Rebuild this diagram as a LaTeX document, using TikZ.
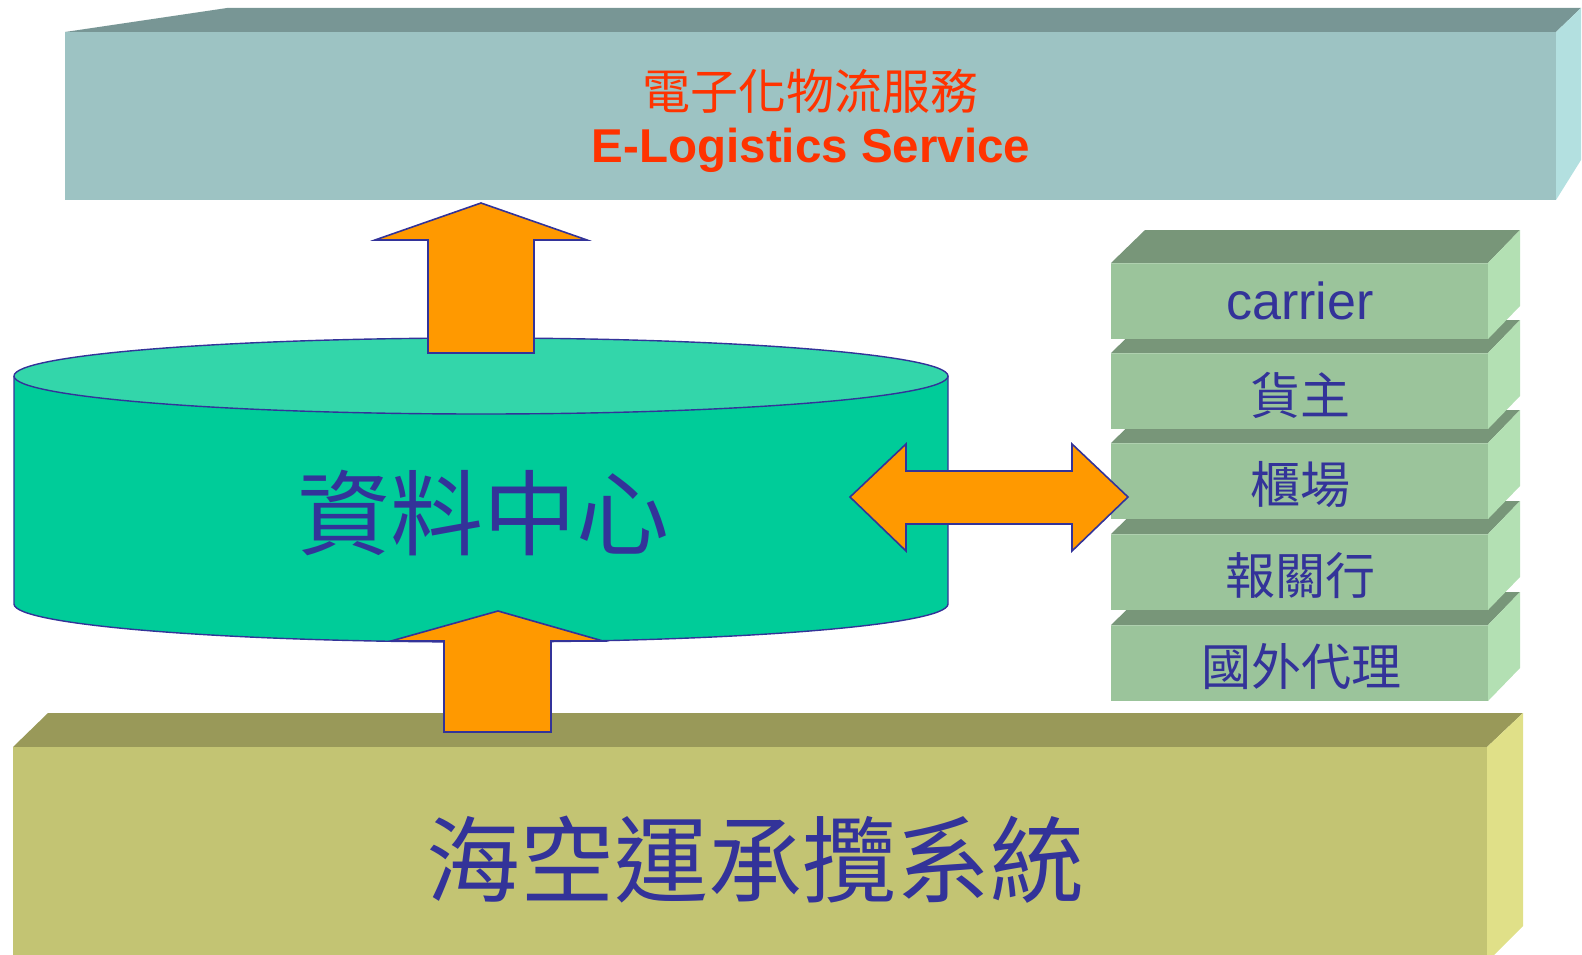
\documentclass[tikz,border=0pt]{standalone}
\usepackage{fontspec}
\setmainfont{Liberation Sans}
\newfontfamily\cjk{Noto Sans CJK TC}
\definecolor{bannerfront}{HTML}{9DC3C3}
\definecolor{bannertop}{HTML}{789695}
\definecolor{bannerside}{HTML}{B3E0E0}
\definecolor{stackfront}{HTML}{9BC49B}
\definecolor{stacktop}{HTML}{789679}
\definecolor{stackside}{HTML}{B3E0B3}
\definecolor{basefront}{HTML}{C3C473}
\definecolor{basetop}{HTML}{999959}
\definecolor{baseside}{HTML}{E0E088}
\definecolor{cylbody}{HTML}{00CC99}
\definecolor{cyltop}{HTML}{33D6AA}
\definecolor{outl}{HTML}{333399}
\definecolor{arrowfill}{HTML}{FF9900}
\definecolor{redtext}{HTML}{FF3300}
\tikzset{
  blockarrow/.style={fill=arrowfill, draw=outl, line width=1.6pt, line join=miter},
  cylface/.style={draw=outl, line width=1.4pt},
  bluetext/.style={text=outl, inner sep=0pt},
  redlabel/.style={text=redtext, inner sep=0pt},
  stacklabel/.style={bluetext, font=\cjk\fontsize{50}{52}\selectfont},
}
\newcommand{\stackbox}[1]{% #1 front top y
  \fill[stacktop] (1111,-#1) -- (1145,-#1+33) -- (1520,-#1+33) -- (1488,-#1) -- cycle;
  \fill[stackside] (1488,-#1) -- (1520,-#1+33) -- (1520,-#1-43) -- (1488,-#1-76) -- cycle;
  \fill[stackfront] (1111,-#1) rectangle (1488,-#1-76);
  \draw[stackfront!80!white, line width=1pt] (1111,-#1) -- (1488,-#1);
}
\begin{document}
\begin{tikzpicture}[x=1pt,y=1pt]
\useasboundingbox (0,0) rectangle (1582,-955);

% top banner
\fill[bannertop] (65,-32) -- (227,-8) -- (1581,-8) -- (1556,-32) -- cycle;
\fill[bannerside] (1556,-32) -- (1581,-8) -- (1581,-160) -- (1556,-200) -- cycle;
\fill[bannerfront] (65,-32) rectangle (1556,-200);
\node[redlabel, font=\cjk\fontsize{48}{50}\selectfont] (zh) at (810,-91) {電子化物流服務};
\node[redlabel, font=\bfseries\fontsize{47.5}{50}\selectfont, anchor=base] (en) at (811,-162) {E-Logistics Service};

% base box
\fill[basetop] (13,-747) -- (48,-713) -- (1523,-713) -- (1487,-747) -- cycle;
\fill[baseside] (1487,-747) -- (1523,-713) -- (1523,-926) -- (1494,-955) -- (1487,-955) -- cycle;
\fill[basefront] (13,-747) rectangle (1487,-955);
\node[bluetext, font=\cjk\fontsize{94}{96}\selectfont] (sys) at (755,-860) {海空運承攬系統};

% right stack (drawn bottom first so upper boxes hide the next top face)
\stackbox{625}
\stackbox{534}
\stackbox{443}
\stackbox{353}
\stackbox{263}
\node[bluetext, font=\fontsize{52}{54}\selectfont] (s1) at (1300,-301) {carrier};
\node[stacklabel] (s2) at (1300,-395) {貨主};
\node[stacklabel] (s3) at (1300,-485) {櫃場};
\node[stacklabel] (s4) at (1300,-576) {報關行};
\node[stacklabel] (s5) at (1301,-667) {國外代理};

% cylinder
\path[fill=cylbody] (14,-376) -- (14,-604) arc[start angle=180, end angle=360, x radius=467, y radius=38] -- (948,-376) -- cycle;
\draw[cylface] (14,-376) -- (14,-604) arc[start angle=180, end angle=360, x radius=467, y radius=38] -- (948,-376);
\draw[cylface, fill=cyltop] (481,-376) ellipse[x radius=467, y radius=38];
\node[bluetext, font=\cjk\fontsize{93}{95}\selectfont] (dc) at (483,-513) {資料中心};

% arrows
\draw[blockarrow] (481,-203) -- (587,-240) -- (534,-240) -- (534,-353) -- (428,-353) -- (428,-240) -- (375,-240) -- cycle;
\draw[blockarrow] (498,-611) -- (603,-641) -- (551,-641) -- (551,-732) -- (444,-732) -- (444,-641) -- (391,-641) -- cycle;
\draw[blockarrow] (850,-497) -- (906,-444) -- (906,-471) -- (1072,-471) -- (1072,-444) -- (1128,-497) -- (1072,-551) -- (1072,-524) -- (906,-524) -- (906,-551) -- cycle;
\end{tikzpicture}
\end{document}
